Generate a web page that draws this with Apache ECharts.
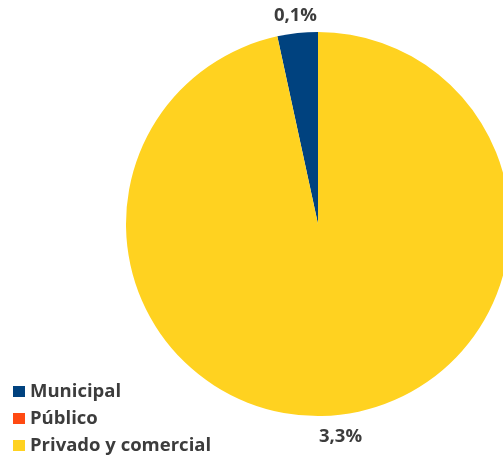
<!DOCTYPE html>
<html>
<head>
<meta charset="utf-8">
<script src="https://cdn.jsdelivr.net/npm/echarts@6/dist/echarts.min.js"></script>
<style>
  html, body { margin: 0; padding: 0; background: #ffffff; }
  #chart { width: 503px; height: 455px; }
</style>
</head>
<body>
<div id="chart"></div>
<script>
// Slice names, shares (%) and the percentage captions printed next to them
const categories = ['Municipal', 'Público', 'Privado y comercial'];
const shares = [3.4, 0, 96.6];
const captions = ['0,1%', '', '3,3%'];
const colors = ['#00427f', '#ff4a12', '#ffd220'];

const FONT = '"Open Sans", "DejaVu Sans", sans-serif';
const TEXT = '#3c3c3c';
const CENTER = [318, 224];

const slices = categories.map((name, i) => ({ name, value: shares[i] }));

const chart = echarts.init(document.getElementById('chart'), null, { renderer: 'canvas' });

chart.setOption({
  animation: false,
  color: colors,
  legend: {
    data: categories,
    orient: 'vertical',
    left: 13,
    bottom: 0,
    padding: 0,
    itemWidth: 12,
    itemHeight: 11,
    itemGap: 8,
    icon: 'rect',
    textStyle: { fontFamily: FONT, fontWeight: 'bold', fontSize: 18.5, color: TEXT, lineHeight: 18 }
  },
  series: [
    {
      // the pie itself
      type: 'pie',
      center: CENTER,
      radius: 192,
      startAngle: 90,
      clockwise: false,
      label: { show: false },
      labelLine: { show: false },
      emphasis: { disabled: true },
      data: slices
    },
    {
      // transparent ring just outside the pie carrying the percentage captions
      type: 'pie',
      center: CENTER,
      radius: [197, 220],
      startAngle: 90,
      clockwise: false,
      silent: true,
      legendHoverLink: false,
      itemStyle: { color: 'rgba(0,0,0,0)' },
      label: {
        show: true,
        position: 'inside',
        offset: [0, 2],
        formatter: p => captions[p.dataIndex],
        fontFamily: FONT,
        fontWeight: 'bold',
        fontSize: 18.5,
        color: TEXT
      },
      labelLine: { show: false },
      emphasis: { disabled: true },
      data: slices.map(s => ({ name: s.name + ' ', value: s.value }))
    }
  ]
});
</script>
</body>
</html>
